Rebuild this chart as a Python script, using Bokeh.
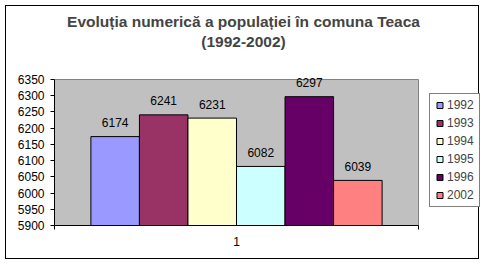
from bokeh.plotting import figure
from bokeh.models import (ColumnDataSource, Range1d, FixedTicker, LabelSet, Label,
                          Legend, LegendItem)
from bokeh.core.properties import value
from bokeh.embed import file_html
from bokeh.resources import INLINE

# ---- data ----
years = ["1992", "1993", "1994", "1995", "1996", "2002"]
population = [6174, 6241, 6231, 6082, 6297, 6039]
colors = ["#9999FF", "#993366", "#FFFFCC", "#CCFFFF", "#660066", "#FF8080"]
category_label = "1"
y_ticks = [5900, 5950, 6000, 6050, 6100, 6150, 6200, 6250, 6300, 6350]
title_line1 = "Evoluția numerică a populației în comuna Teaca"
title_line2 = "(1992-2002)"

FONT = "Liberation Sans"
y_min, y_max = y_ticks[0], y_ticks[-1]

# ---- layout (canvas pixels inside the chart border) ----
CW, CH = 474, 254          # canvas size
FL, FB = 48, 35            # frame left border / bottom border
PLOT_W, PLOT_H = 364, 146  # grey plot-area size
frame_w = CW - FL
frame_h = CH - FB
x_end = frame_w / PLOT_W                     # frame extends right of plot area (legend room)
y_end = y_min + (y_max - y_min) * frame_h / PLOT_H   # and above it (title room)

# Excel-style clustered layout: gap width 150% split on both sides
n = len(years)
bar_w = 1.0 / (n + 1.5)
xs = [(0.75 + i + 0.5) * bar_w for i in range(n)]

src = ColumnDataSource(dict(x=xs, top=population, year=years, color=colors,
                            label=[str(v) for v in population]))

p = figure(width=CW, height=CH, x_range=Range1d(0, x_end), y_range=Range1d(y_min, y_end),
           output_backend="svg", toolbar_location=None, title=None,
           min_border_left=FL, min_border_right=0, min_border_top=0, min_border_bottom=FB,
           background_fill_color="white", border_fill_color="white",
           outline_line_color=None)
p.styles = {"border": "1px solid black", "margin-left": "5px", "margin-top": "5px"}
p.xgrid.visible = False
p.ygrid.visible = False

# grey plot area
p.quad(left=0, right=1, bottom=y_min, top=y_max, fill_color="#C0C0C0",
       line_color="#808080", line_width=1)

p.vbar(x="x", top="top", bottom=y_min, width=bar_w, fill_color="color",
       line_color="black", line_width=1, source=src)

dummy = p.scatter(x="x", y="top", marker="square", size=7, fill_color="color",
                  line_color="black", line_width=1, source=src)
dummy.visible = False

labels = LabelSet(x="x", y="top", text="label", source=src, y_offset=14,
                  text_align="center", text_baseline="middle",
                  text_font=value(FONT), text_font_size="12px", text_color="black")
p.add_layout(labels)

# axes
xa = p.xaxis[0]
xa.bounds = (0, 1)
xa.ticker = FixedTicker(ticks=[0.5], minor_ticks=[0, 1])
xa.major_label_overrides = {0.5: category_label}
xa.major_tick_out = 0
xa.major_tick_in = 0
xa.minor_tick_out = 4
xa.minor_tick_in = 0
xa.minor_tick_line_color = "black"
xa.axis_line_color = "black"
xa.major_label_standoff = 7
xa.major_label_text_font = FONT
xa.major_label_text_font_size = "12px"
xa.major_label_text_color = "black"

ya = p.yaxis[0]
ya.bounds = (y_min, y_max)
ya.ticker = FixedTicker(ticks=y_ticks)
ya.major_tick_out = 4
ya.major_tick_in = 0
ya.minor_tick_out = 0
ya.minor_tick_in = 0
ya.axis_line_color = "black"
ya.major_tick_line_color = "black"
ya.major_label_standoff = 6
ya.major_label_text_font = FONT
ya.major_label_text_font_size = "12px"
ya.major_label_text_color = "black"

# legend
items = [LegendItem(label=y, renderers=[dummy], index=i) for i, y in enumerate(years)]
legend = Legend(items=items, location=(375, 18), padding=2, margin=0, spacing=0,
                glyph_width=15, glyph_height=18, label_height=18, label_width=30,
                label_standoff=0, label_text_font=FONT, label_text_font_size="12px",
                border_line_color="black", border_line_width=1,
                background_fill_color="white", background_fill_alpha=1)
p.add_layout(legend)

# title (screen units relative to the frame's bottom-left)
p.add_layout(Label(x=189, y=204, x_units="screen", y_units="screen", text=title_line1,
                   text_align="center", text_baseline="middle", text_font=FONT,
                   text_font_style="bold", text_font_size="15.5px"))
p.add_layout(Label(x=189, y=184, x_units="screen", y_units="screen", text=title_line2,
                   text_align="center", text_baseline="middle", text_font=FONT,
                   text_font_style="bold", text_font_size="15.5px"))

open("out.html", "w").write(file_html(p, INLINE))
